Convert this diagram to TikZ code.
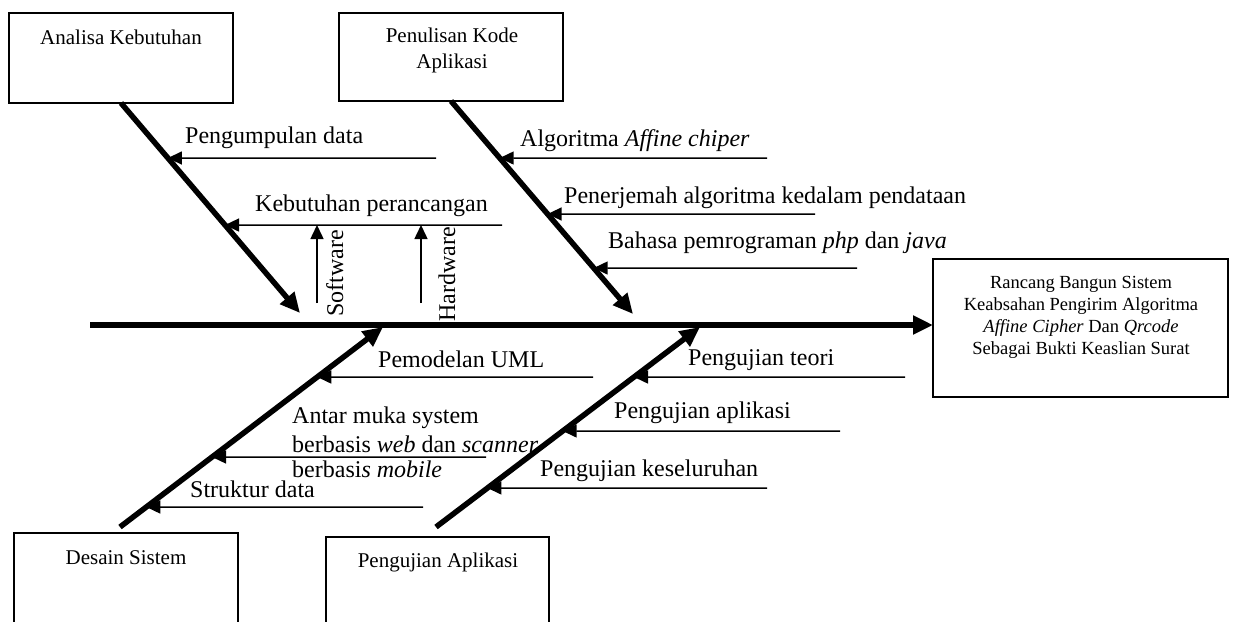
\documentclass[tikz,border=0pt]{standalone}
\usepackage{fontspec}
\setmainfont{Liberation Serif}
\usetikzlibrary{arrows.meta,calc}
\begin{document}
\begin{tikzpicture}[x=1pt,y=-1pt,
  bone/.style={line width=5.5pt,-{Triangle[length=20pt,width=18pt]}},
  sub/.style={line width=1.5pt,-{Triangle[length=14pt,width=13pt]}},
  frame/.style={draw,line width=2pt,outer sep=0pt,inner sep=0pt,anchor=north west},
  lab/.style={font=\fontsize{24}{29}\selectfont,inner sep=0pt,anchor=base west},
  boxlab/.style={font=\fontsize{21}{26}\selectfont,inner sep=0pt,anchor=base},
  rblab/.style={font=\fontsize{18.5}{22}\selectfont,inner sep=0pt,anchor=base}
]
\useasboundingbox (0,0) rectangle (1233,621);
\clip (0,0) rectangle (1233,621);

% boxes
\node[frame,minimum width=224pt,minimum height=90pt] (ak) at (9,13) {};
\node[frame,minimum width=224pt,minimum height=88pt] (pk) at (339,13) {};
\node[frame,minimum width=295pt,minimum height=138pt] (rb) at (933,259) {};
\node[frame,minimum width=224pt,minimum height=130pt] (ds) at (14,533) {};
\node[frame,minimum width=223pt,minimum height=130pt] (pa) at (326,537) {};

\node[boxlab] (akt) at (121,44) {Analisa Kebutuhan};
\node[boxlab] (pkt) at (452,42) {\begin{tabular}[t]{@{}c@{}}Penulisan Kode\\Aplikasi\end{tabular}};
\node[rblab] (rbt) at (1081,288) {\begin{tabular}[t]{@{}c@{}}Rancang Bangun Sistem\\Keabsahan Pengirim Algoritma\\\textit{Affine Cipher} Dan \textit{Qrcode}\\Sebagai Bukti Keaslian Surat\end{tabular}};
\node[boxlab] (dst) at (126,564) {Desain Sistem};
\node[boxlab] (pat) at (438,567) {Pengujian Aplikasi};

% spine
\coordinate (sp0) at (90,325);
\draw[bone] (sp0) -- (sp0 -| rb.west);

% bones
\coordinate (b1e) at (300,313);
\coordinate (b2e) at (633,314);
\coordinate (b3s) at (120,527);
\coordinate (b3e) at (383,327);
\coordinate (b4s) at (436,527);
\coordinate (b4e) at (700,327);
\draw[bone] (ak.south) -- (b1e);
\draw[bone] (pk.south) -- (b2e);
\draw[bone] (b3s) -- (b3e);
\draw[bone] (b4s) -- (b4e);

% sub-arrow start points
\coordinate (a1) at (436,158);
\coordinate (a2) at (502,225);
\coordinate (a3) at (767,158);
\coordinate (a4) at (815,214);
\coordinate (a5) at (857,268);
\coordinate (a6) at (593,377);
\coordinate (a7) at (486,457);
\coordinate (a8) at (423,507);
\coordinate (a9) at (905,377);
\coordinate (a10) at (840,431);
\coordinate (a11) at (767,488);
\coordinate (sw) at (317,303);
\coordinate (hw) at (421,303);

% tips on bones
\coordinate (t1) at (intersection cs:first line={(ak.south)--(b1e)},second line={(a1)--([xshift=-10pt]a1)});
\coordinate (t2) at (intersection cs:first line={(ak.south)--(b1e)},second line={(a2)--([xshift=-10pt]a2)});
\coordinate (t3) at (intersection cs:first line={(pk.south)--(b2e)},second line={(a3)--([xshift=-10pt]a3)});
\coordinate (t4) at (intersection cs:first line={(pk.south)--(b2e)},second line={(a4)--([xshift=-10pt]a4)});
\coordinate (t5) at (intersection cs:first line={(pk.south)--(b2e)},second line={(a5)--([xshift=-10pt]a5)});
\coordinate (t6) at (intersection cs:first line={(b3s)--(b3e)},second line={(a6)--([xshift=-10pt]a6)});
\coordinate (t7) at (intersection cs:first line={(b3s)--(b3e)},second line={(a7)--([xshift=-10pt]a7)});
\coordinate (t8) at (intersection cs:first line={(b3s)--(b3e)},second line={(a8)--([xshift=-10pt]a8)});
\coordinate (t9) at (intersection cs:first line={(b4s)--(b4e)},second line={(a9)--([xshift=-10pt]a9)});
\coordinate (t10) at (intersection cs:first line={(b4s)--(b4e)},second line={(a10)--([xshift=-10pt]a10)});
\coordinate (t11) at (intersection cs:first line={(b4s)--(b4e)},second line={(a11)--([xshift=-10pt]a11)});

\foreach \i in {1,...,11} {\draw[sub] (a\i) -- (t\i);}
\draw[sub] (sw) -- (sw |- a2);
\draw[sub] (hw) -- (hw |- a2);

% labels
\node[lab] (l1) at (185,143) {Pengumpulan data};
\node[lab] (l2) at (255,211) {Kebutuhan perancangan};
\node[lab,rotate=90] (lsw) at (343,317) {Software};
\node[lab,rotate=90] (lhw) at (455,322) {Hardware};
\node[lab] (l3) at (520,146) {Algoritma \textit{Affine chiper}};
\node[lab] (l4) at (564,203) {Penerjemah algoritma kedalam pendataan};
\node[lab] (l5) at (608,248) {Bahasa pemrograman \textit{php} dan \textit{java}};
\node[lab] (l6) at (378,367) {Pemodelan UML};
\node[lab] (l7) at (292,423) {\begin{tabular}[t]{@{}l@{}}Antar muka system\\berbasis \textit{web} dan \textit{scanner}\\[-4pt]berbasi\textit{s mobile}\end{tabular}};
\node[lab] (l8) at (190,497) {Struktur data};
\node[lab] (l9) at (688,365) {Pengujian teori};
\node[lab] (l10) at (614,418) {Pengujian aplikasi};
\node[lab] (l11) at (540,476) {Pengujian keseluruhan};
\end{tikzpicture}
\end{document}
